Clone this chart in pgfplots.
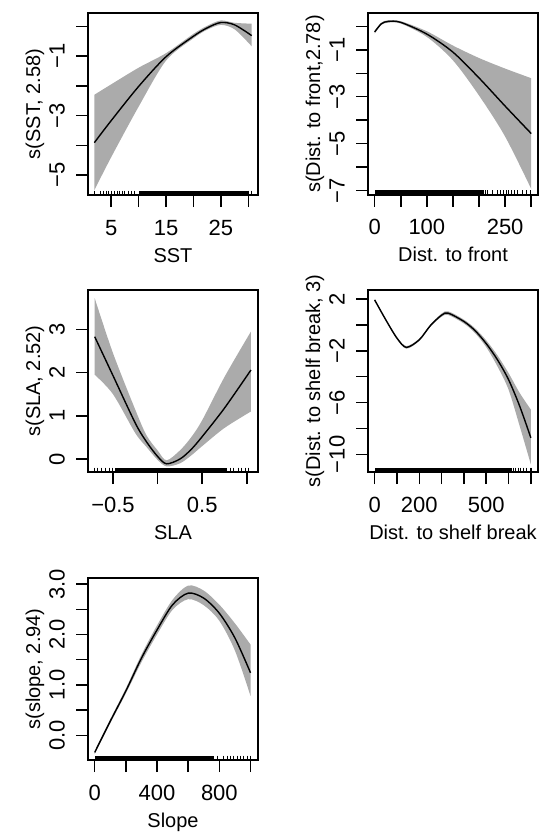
\documentclass[border=0pt]{standalone}
\usepackage{fontspec}
\setmainfont{Liberation Sans}
\usepackage{pgfplots}
\usepackage{pgfplotstable}
\pgfplotsset{compat=1.18}
\usepgfplotslibrary{fillbetween}
\definecolor{band}{HTML}{ABABAB}

% smooth terms: x, fit, lower and upper band
\pgfplotstableread{
x fit lo hi
1.93 -3.91 -5.51 -2.30
5 -3.17 -4.40 -1.95
10 -2.02 -2.70 -1.39
15 -1.02 -1.15 -0.90
20 -0.33 -0.40 -0.25
22.5 -0.05 -0.11 0.02
25 0.13 0.05 0.20
27.5 0.05 -0.10 0.12
30.6 -0.31 -0.67 0.09
}\tSST
\pgfplotstableread{
x fit lo hi
0 -0.24 -0.30 -0.18
12.8 0.11 0.06 0.16
25.7 0.21 0.16 0.26
50 0.17 0.12 0.22
100 -0.33 -0.45 -0.21
150 -1.10 -1.45 -0.82
200 -2.20 -2.95 -1.35
250 -3.40 -4.70 -1.80
300 -4.57 -6.93 -2.21
}\tFront
\pgfplotstableread{
x fit lo hi
-0.705 2.83 1.95 3.72
-0.5 1.93 1.50 2.45
-0.25 0.83 0.60 1.14
-0.125 0.40 0.28 0.55
0 0.06 -0.02 0.20
0.1 -0.11 -0.17 -0.03
0.25 0.00 -0.10 0.20
0.375 0.22 0.08 0.50
0.5 0.52 0.30 0.90
0.75 1.18 0.72 1.90
1.046 2.06 1.10 2.95
}\tSLA
\pgfplotstableread{
x fit lo hi
0 1.92 1.84 2.00
50 0.38 0.30 0.46
100 -1.03 -1.11 -0.95
142 -1.74 -1.84 -1.64
200 -1.15 -1.24 -1.06
250 -0.05 -0.14 0.04
300 0.75 0.63 0.87
330 0.90 0.76 1.04
400 0.26 0.10 0.40
450 -0.45 -0.64 -0.27
500 -1.45 -1.72 -1.20
550 -2.69 -3.20 -2.35
600 -4.23 -5.00 -3.72
650 -6.28 -7.82 -5.26
700 -8.72 -10.77 -6.54
}\tShelf
\pgfplotstableread{
x fit lo hi
0 -0.34 -0.37 -0.31
100 0.28 0.24 0.32
200 0.88 0.83 0.93
300 1.53 1.45 1.60
400 2.09 2.00 2.18
500 2.59 2.49 2.69
600 2.82 2.70 2.97
700 2.72 2.58 2.87
800 2.42 2.27 2.59
900 1.93 1.68 2.22
1000 1.24 0.78 1.80
}\tSlope

\pgfplotsset{
  rplot/.style={
    scale only axis, width=85pt, height=91pt, anchor=north west,
    axis line style={line width=0.75pt},
    tick align=outside, major tick length=6pt,
    xtick pos=bottom, ytick pos=left, minor tick num=0,
    every tick/.style={black, line width=0.75pt},
    tick label style={font=\fontsize{11}{13}\selectfont},
    xticklabel style={anchor=base, yshift=-14pt},
    yticklabel style={xshift=-5.75pt, rotate=90, anchor=base},
    label style={font=\fontsize{11}{13}\selectfont},
    every axis x label/.style={at={([yshift=-33.5pt]rel axis cs:0.5,0)}, anchor=base},
    every axis y label/.style={at={([xshift=-24pt]rel axis cs:0,0.5)}, rotate=90, anchor=base},
  },
  fitline/.style={black, line width=0.7pt, smooth, tension=0.5},
  rug/.style={black, only marks, mark=|, mark size=1.125pt, mark options={line width=0.5pt}},
}

\begin{document}
\begin{tikzpicture}
% SST
\begin{axis}[rplot, at={(44pt,-6.5pt)},
  xmin=0.78, xmax=31.75, ymin=-5.67, ymax=0.45,
  xtick={5,10,15,20,25,30}, xticklabels={5,,15,,25,},
  ytick={-5,-4,-3,-2,-1,0}, yticklabels={−5,,−3,,−1,},
  xlabel={SST}, ylabel={s(SST, 2.58)}]
\addplot[name path=hi, draw=none, smooth, tension=0.5] table[x=x, y=hi] {\tSST};
\addplot[name path=lo, draw=none, smooth, tension=0.5] table[x=x, y=lo] {\tSST};
\addplot[band, draw=none] fill between[of=hi and lo];
\addplot[fitline] table[x=x, y=fit] {\tSST};
\addplot[fill=black, draw=none] coordinates {(10.1,-5.67) (29.9,-5.67) (29.9,-5.519) (10.1,-5.519)};
\addplot[rug] coordinates {(2.05,-5.595) (3.1,-5.595) (3.6,-5.595) (4.1,-5.595) (4.6,-5.595) (5.1,-5.595) (5.6,-5.595) (6.1,-5.595) (6.5,-5.595) (7.0,-5.595) (7.4,-5.595) (8.1,-5.595) (8.7,-5.595) (9.3,-5.595) (30.1,-5.595) (30.6,-5.595)};
\end{axis}
% Dist. to front
\begin{axis}[rplot, at={(184pt,-6.5pt)},
  xmin=-12.8, xmax=313, ymin=-7.19, ymax=0.57,
  xtick={0,50,100,150,200,250,300}, xticklabels={0,,100,,,250,},
  ytick={-7,-6,-5,-4,-3,-2,-1,0}, yticklabels={−7,,−5,,−3,,−1,},
  xlabel={Dist. to front}, ylabel={s(Dist. to front,2.78)}]
\addplot[name path=hi, draw=none, smooth, tension=0.5] table[x=x, y=hi] {\tFront};
\addplot[name path=lo, draw=none, smooth, tension=0.5] table[x=x, y=lo] {\tFront};
\addplot[band, draw=none] fill between[of=hi and lo];
\addplot[fitline] table[x=x, y=fit] {\tFront};
\addplot[fill=black, draw=none] coordinates {(0,-7.19) (209,-7.19) (209,-6.998) (0,-6.998)};
\addplot[rug] coordinates {(212,-7.094) (216,-7.094) (225,-7.094) (234.5,-7.094) (241,-7.094) (247,-7.094) (252,-7.094) (257,-7.094) (262,-7.094) (267,-7.094) (273,-7.094) (283,-7.094) (291,-7.094) (299,-7.094)};
\end{axis}
% SLA
\begin{axis}[rplot, at={(44pt,-145pt)},
  xmin=-0.78, xmax=1.125, ymin=-0.3, ymax=3.91,
  xtick={-0.5,0,0.5,1}, xticklabels={−0.5,,0.5,},
  ytick={0,1,2,3}, yticklabels={0,1,2,3},
  xlabel={SLA}, ylabel={s(SLA, 2.52)}]
\addplot[name path=hi, draw=none, smooth, tension=0.5] table[x=x, y=hi] {\tSLA};
\addplot[name path=lo, draw=none, smooth, tension=0.5] table[x=x, y=lo] {\tSLA};
\addplot[band, draw=none] fill between[of=hi and lo];
\addplot[fitline] table[x=x, y=fit] {\tSLA};
\addplot[fill=black, draw=none] coordinates {(-0.481,-0.3) (0.775,-0.3) (0.775,-0.196) (-0.481,-0.196)};
\addplot[rug] coordinates {(-0.706,-0.248) (-0.669,-0.248) (-0.631,-0.248) (-0.582,-0.248) (-0.537,-0.248) (-0.5,-0.248) (0.812,-0.248) (0.85,-0.248) (0.906,-0.248) (0.944,-0.248) (0.981,-0.248) (1.019,-0.248)};
\end{axis}
% Dist. to shelf break
\begin{axis}[rplot, at={(184pt,-145pt)},
  xmin=-30, xmax=732, ymin=-11.36, ymax=2.69,
  xtick={0,100,200,300,400,500,600,700}, xticklabels={0,,200,,,500,,},
  ytick={-10,-8,-6,-4,-2,0,2}, yticklabels={−10,,−6,,−2,,2},
  xlabel={Dist. to shelf break}, ylabel={s(Dist. to shelf break, 3)}]
\addplot[name path=hi, draw=none, smooth, tension=0.5] table[x=x, y=hi] {\tShelf};
\addplot[name path=lo, draw=none, smooth, tension=0.5] table[x=x, y=lo] {\tShelf};
\addplot[band, draw=none] fill between[of=hi and lo];
\addplot[fitline] table[x=x, y=fit] {\tShelf};
\addplot[fill=black, draw=none] coordinates {(0,-11.36) (615,-11.36) (615,-11.013) (0,-11.013)};
\addplot[rug] coordinates {(622,-11.187) (630,-11.187) (645,-11.187) (652,-11.187) (667,-11.187) (682,-11.187) (697,-11.187) (705,-11.187)};
\end{axis}
% Slope
\begin{axis}[rplot, at={(44pt,-289pt)},
  xmin=-43, xmax=1048, ymin=-0.49, ymax=3.12,
  xtick={0,200,400,600,800,1000}, xticklabels={0,,400,,800,},
  ytick={0,0.5,1,1.5,2,2.5,3}, yticklabels={0.0,,1.0,,2.0,,3.0},
  xlabel={Slope}, ylabel={s(slope, 2.94)}]
\addplot[name path=hi, draw=none, smooth, tension=0.5] table[x=x, y=hi] {\tSlope};
\addplot[name path=lo, draw=none, smooth, tension=0.5] table[x=x, y=lo] {\tSlope};
\addplot[band, draw=none] fill between[of=hi and lo];
\addplot[fitline] table[x=x, y=fit] {\tSlope};
\addplot[fill=black, draw=none] coordinates {(0,-0.49) (763,-0.49) (763,-0.401) (0,-0.401)};
\addplot[rug] coordinates {(785,-0.4455) (828,-0.4455) (850,-0.4455) (871,-0.4455) (892,-0.4455) (914,-0.4455) (935,-0.4455) (957,-0.4455) (978,-0.4455) (1000,-0.4455)};
\end{axis}
\pgfresetboundingbox
\useasboundingbox (0,0) rectangle (274.5pt,-417pt);
\end{tikzpicture}
\end{document}
